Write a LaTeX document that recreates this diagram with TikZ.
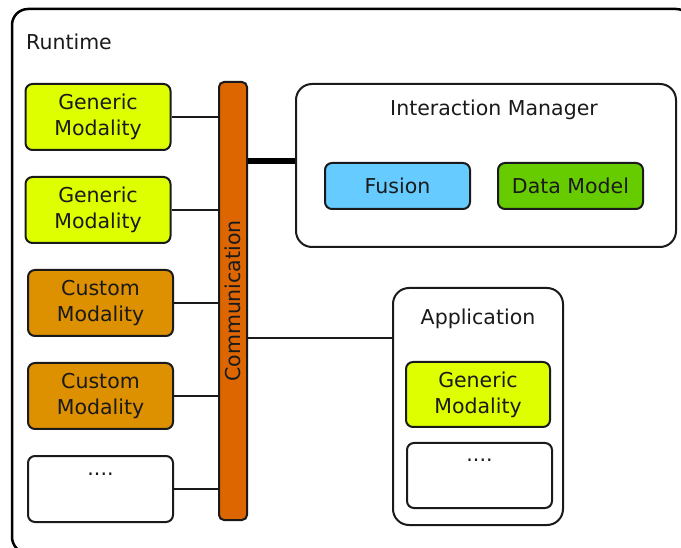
\documentclass[tikz,border=0pt]{standalone}
\usepackage{fontspec}
\setmainfont{DejaVu Sans}
\definecolor{genericc}{HTML}{DDFF00}
\definecolor{customc}{HTML}{DD9000}
\definecolor{commc}{HTML}{DD6600}
\definecolor{fusionc}{HTML}{66CCFF}
\definecolor{datac}{HTML}{66CC00}
\definecolor{inkc}{HTML}{1A1A1A}
\newcommand{\labelfont}{\fontsize{20.5}{26}\selectfont}
\tikzset{
  box/.style={draw=inkc, line width=2pt, rounded corners=7pt, inner sep=0pt,
    align=center, font=\labelfont, text=inkc},
  modbox/.style={box, minimum width=145pt, minimum height=66pt},
  container/.style={draw=inkc, line width=2pt, rounded corners=16pt, fill=white, inner sep=0pt},
  title/.style={font=\labelfont, text=inkc, inner sep=0pt},
  link/.style={draw=inkc, line width=2pt},
  biglink/.style={draw=black, line width=6pt},
}
\begin{document}
\begin{tikzpicture}[x=1pt,y=-1pt]
\useasboundingbox (0,0) rectangle (681,548);
\clip (0,0) rectangle (681,548);
% runtime frame
\draw[draw=black, line width=2.5pt, rounded corners=16pt] (12,9) rectangle (692,553);
\node[title, anchor=west] (runtime) at (26,42) {Runtime};

% communication bus
\node[draw=inkc, line width=2pt, fill=commc, rounded corners=5pt, inner sep=0pt,
      minimum width=28pt, minimum height=438pt, text=inkc] (comm) at (233,301)
      {\rotatebox{90}{\labelfont Communication}};

% modalities on the left
\node[modbox, fill=genericc] (gm1) at (98,117) {Generic\\Modality};
\node[modbox, fill=genericc] (gm2) at (98,210) {Generic\\Modality};
\node[modbox, fill=customc]  (cm1) at (100.5,303) {Custom\\Modality};
\node[modbox, fill=customc]  (cm2) at (100.5,396) {Custom\\Modality};
\node[modbox, fill=white]    (dm)  at (100.5,489) {....\\\phantom{Modality}};

\foreach \m in {gm1,gm2,cm1,cm2,dm}
  \draw[link] (\m.east) -- (comm.west |- \m.east);

% interaction manager
\node[container, minimum width=380pt, minimum height=163pt] (im) at (486,165.5) {};
\node[title] (imt) at (494,110) {Interaction Manager};
\node[box, fill=fusionc, minimum width=145pt, minimum height=46pt] (fus) at (397.5,186) {Fusion};
\node[box, fill=datac, minimum width=145pt, minimum height=46pt] (dat) at (570.5,186) {Data Model};
\coordinate (imlink) at (0,161);
\draw[biglink] (comm.east |- imlink) -- (im.west |- imlink);

% application
\node[container, minimum width=170pt, minimum height=237pt] (app) at (478,406.5) {};
\node[title] (appt) at (478,319) {Application};
\node[box, fill=genericc, minimum width=144pt, minimum height=65pt] (agm) at (478,394.5) {Generic\\Modality};
\node[box, fill=white, minimum width=145pt, minimum height=65pt] (adm) at (479.5,475.5) {....\\\phantom{Modality}};
\coordinate (applink) at (0,338);
\draw[link] (comm.east |- applink) -- (app.west |- applink);
\end{tikzpicture}
\end{document}
